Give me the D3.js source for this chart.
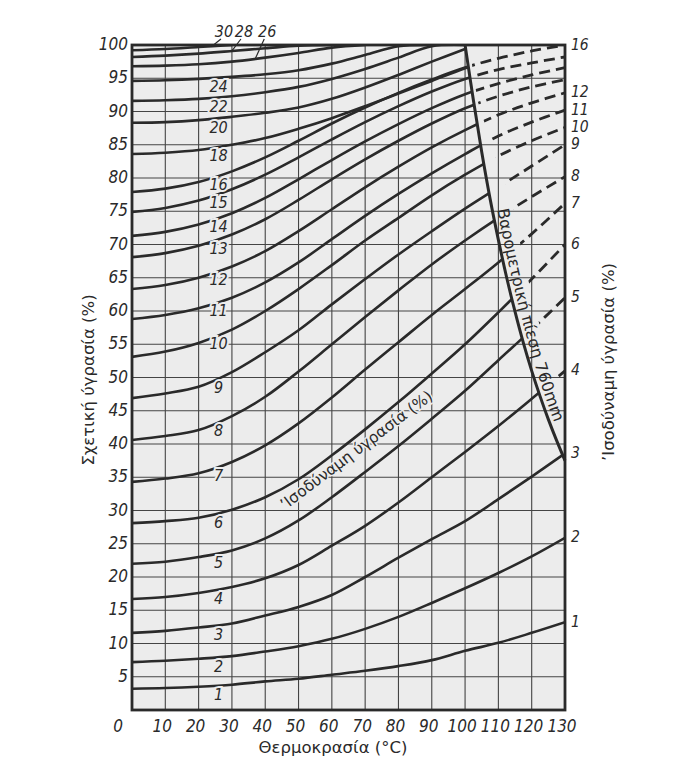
<!DOCTYPE html>
<html><head><meta charset="utf-8">
<script src="https://cdn.jsdelivr.net/npm/d3@7"></script>
<style>body{margin:0;background:#fff}</style>
</head><body>
<svg id="c" width="679" height="774"></svg>
<script>
// ---- data ----
const temps = [0,10,20,30,40,50,60,70,80,90,100,110,120,130];
const emc1  = [3.2,3.3,3.5,3.8,4.3,4.7,5.3,5.9,6.6,7.5,8.9,10.1,11.6,13.2];
const emc2  = [7.2,7.4,7.7,8.1,8.8,9.6,10.7,12.2,14.0,16.1,18.3,20.6,23.1,25.9];
const emc3  = [11.6,11.9,12.4,13.0,14.2,15.5,17.3,20.0,22.9,25.7,28.4,31.7,35.1,38.6];
const emc4  = [16.7,17.0,17.6,18.5,19.8,21.8,24.7,27.7,31.2,35.0,38.8,42.7,46.8,51.0];
const emc5  = [22.0,22.3,23.0,24.0,25.8,28.5,32.0,35.8,39.7,43.8,48.0,52.6,57.2,62.0];
const emc6  = [28.1,28.4,28.9,30.1,32.0,34.7,38.3,42.2,46.3,50.6,55.0,59.8,64.8,70.0];
const emc7  = [34.3,34.8,35.6,37.3,39.8,43.1,47.0,51.2,55.3,59.4,63.3,67.3,71.6,76.2];
const emc8  = [40.6,41.2,42.1,44.2,47.1,50.9,55.0,59.1,63.1,67.0,70.6,74.0,77.2,80.2];
const emc9  = [46.9,47.6,48.6,50.8,53.8,57.1,61.0,64.8,68.5,72.0,75.4,78.6,81.8,85.0];
const emc10 = [53.1,53.9,55.2,57.2,60.0,63.3,66.9,70.6,74.0,77.4,80.5,83.3,85.6,87.6];
const emc11 = [58.8,59.4,60.4,62.0,64.3,67.3,70.8,74.3,77.6,80.7,83.6,86.3,88.4,90.2];
const emc12 = [63.3,63.9,65.0,66.7,69.0,72.0,75.3,78.6,81.7,84.6,87.2,89.5,91.3,92.8];
const emc13 = [68.1,68.7,69.8,71.5,73.8,76.7,79.8,82.8,85.6,88.2,90.5,92.3,93.7,94.8];
const emc14 = [71.3,71.9,73.0,74.7,77.0,79.8,82.7,85.5,88.1,90.5,92.6,94.2,95.5,96.6];
const emc15 = [74.9,75.5,76.6,78.3,80.5,83.1,85.8,88.4,90.8,93.0,94.9,96.3,97.3,98.2];
const emc16 = [77.9,78.4,79.4,81.0,83.1,85.6,88.2,90.6,92.8,94.8,96.6,98.0,99.1,100];
const emc18 = [83.6,83.8,84.2,85.0,86.0,87.4,89.0,90.8,92.7,94.6,96.5,98.2,null,null];
const emc20 = [88.3,88.4,88.7,89.2,89.8,90.6,91.9,93.6,95.5,97.5,99.4,null,null,null];
const emc22 = [91.6,91.7,91.9,92.3,92.9,93.7,94.9,96.4,98.1,99.8,100,null,null,null];
const emc24 = [94.6,94.7,94.9,95.2,95.6,96.2,97.2,98.5,99.8,100,null,null,null,null];
const emc26 = [96.8,96.9,97.1,97.5,98.1,98.8,99.6,100,null,null,null,null,null,null];
const emc28 = [98.2,98.4,98.7,99.1,99.5,99.9,100,null,null,null,null,null,null,null];
const emc30 = [99.2,99.4,99.7,100,null,null,null,null,null,null,null,null,null,null];

const curveLabels = [1,2,3,4,5,6,7,8,9,10,11,12,13,14,15,16,18,20,22,24,26,28,30];
const curveValues = [emc1,emc2,emc3,emc4,emc5,emc6,emc7,emc8,emc9,emc10,emc11,emc12,
  emc13,emc14,emc15,emc16,emc18,emc20,emc22,emc24,emc26,emc28,emc30];
const dashedLabels = [4,5,6,7,8,9,10,11,12,13,14,15,16];
const rightLabels = [1,2,3,4,5,6,7,8,9,10,11,12,16];
const topLabels = [30,28,26];
const topLabelT = [24,30,37];

const baroT  = [100,102.5,105,107.5,110,112.5,115,117.5,120,122.5,125,127.5,130];
const baroRH = [100,91.7,83.9,76.9,70.7,65.0,59.9,55.2,51.0,47.2,43.7,40.5,37.5];

const xTicks = [10,20,30,40,50,60,70,80,90,100,110,120,130];
const yTicks = [5,10,15,20,25,30,35,40,45,50,55,60,65,70,75,80,85,90,95,100];

// ---- drawing ----
const ink = "#2a2a2a";
const paper = "#ececec";
const svg = d3.select("#c");
const x = d3.scaleLinear().domain([0,130]).range([132,565]);
const y = d3.scaleLinear().domain([0,100]).range([710,45]);
const numFont = "'DejaVu Sans Condensed','DejaVu Sans',sans-serif";
const titleFont = "'DejaVu Sans',sans-serif";

svg.append("rect").attr("x",x(0)).attr("y",y(100)).attr("width",x(130)-x(0)).attr("height",y(0)-y(100)).attr("fill",paper);

const defs = svg.append("defs");
const poly = d3.line().x(d=>d[0]).y(d=>d[1]);
const baroPx = baroT.map((t,i)=>[x(t),y(baroRH[i])]);
// gap (px) between barometric line and start of dashed lines: small at top, wide where the label runs
const gapPx = baroT.map(t => t<=102.5 ? 4 : (t<106 ? 12 : 21));
const baroGapPx = baroPx.map((p,i)=>[p[0]+gapPx[i],p[1]]);
defs.append("clipPath").attr("id","solidClip").append("path")
  .attr("d", poly([[x(0),y(-5)],[x(0),y(100)],...baroPx,[x(130),y(-5)]]) + "Z");
defs.append("clipPath").attr("id","dashClip").append("path")
  .attr("d", poly([[baroGapPx[0][0],y(100)],[x(130),y(100)],[x(130),baroPx[baroPx.length-1][1]],...baroGapPx.slice().reverse()]) + "Z");
defs.append("clipPath").attr("id","plotClip").append("rect")
  .attr("x",x(0)).attr("y",y(100)).attr("width",x(130)-x(0)).attr("height",y(0)-y(100));

// grid
const grid = svg.append("g").attr("stroke","#444").attr("stroke-width",1.1);
xTicks.forEach(t=>grid.append("line").attr("x1",x(t)).attr("x2",x(t)).attr("y1",y(0)).attr("y2",y(100)));
yTicks.forEach(v=>grid.append("line").attr("x1",x(0)).attr("x2",x(130)).attr("y1",y(v)).attr("y2",y(v)));

// curves
const line = d3.line().defined(d=>d[1]!=null).x(d=>x(d[0])).y(d=>y(d[1])).curve(d3.curveCatmullRom.alpha(0.5));
const cg = svg.append("g").attr("clip-path","url(#plotClip)");
curveValues.forEach((vals,i)=>{
  const pts = temps.map((t,j)=>[t,vals[j]]);
  cg.append("path").attr("d",line(pts)).attr("fill","none").attr("stroke",ink)
    .attr("stroke-width",2.6).attr("clip-path","url(#solidClip)");
  if (dashedLabels.includes(curveLabels[i])) {
    cg.append("path").attr("d",line(pts)).attr("fill","none").attr("stroke",ink)
      .attr("stroke-width",2.8).attr("stroke-dasharray","11,6").attr("clip-path","url(#dashClip)");
  }
});

// barometric line
const baroLine = d3.line().x(d=>x(d[0])).y(d=>y(d[1])).curve(d3.curveCatmullRom.alpha(0.5));
svg.append("path").attr("d", baroLine(baroT.map((t,i)=>[t,baroRH[i]])))
  .attr("fill","none").attr("stroke",ink).attr("stroke-width",3);

// border
svg.append("rect").attr("x",x(0)).attr("y",y(100)).attr("width",x(130)-x(0)).attr("height",y(0)-y(100))
  .attr("fill","none").attr("stroke",ink).attr("stroke-width",2.8);

// tick labels
const tl = svg.append("g").attr("font-family",numFont).attr("font-style","oblique").attr("font-size",17).attr("fill",ink);
xTicks.forEach(t=>tl.append("text").attr("x",x(t)-3).attr("y",y(0)+17).attr("text-anchor","middle").attr("dominant-baseline","middle").text(t));
tl.append("text").attr("x",x(0)-14).attr("y",y(0)+17).attr("text-anchor","middle").attr("dominant-baseline","middle").text(0);
yTicks.forEach(v=>tl.append("text").attr("x",x(0)-4).attr("y",y(v)).attr("text-anchor","end").attr("dominant-baseline","middle").text(v));

// curve labels
function valAt(vals,t){
  for(let j=0;j<temps.length-1;j++){
    if(t>=temps[j]&&t<=temps[j+1]&&vals[j]!=null&&vals[j+1]!=null){
      const f=(t-temps[j])/(temps[j+1]-temps[j]); return vals[j]+f*(vals[j+1]-vals[j]);
    }
  }
  return null;
}
const lab = svg.append("g").attr("font-family",numFont).attr("font-style","oblique").attr("font-size",16).attr("fill",ink);
curveLabels.forEach((c,i)=>{
  if (topLabels.includes(c)) return;
  const v = valAt(curveValues[i],26);
  lab.append("text").attr("x",x(26)).attr("y",y(v)+10).attr("text-anchor","middle").attr("dominant-baseline","middle")
    .attr("stroke",paper).attr("stroke-width",4).attr("paint-order","stroke").text(c);
});
topLabels.forEach((c,k)=>{
  const i = curveLabels.indexOf(c);
  const t = topLabelT[k];
  const v = valAt(curveValues[i],t);
  const tx = x(t)+9, ty = y(100)-13;
  lab.append("text").attr("x",tx+3).attr("y",ty).attr("text-anchor","middle").attr("dominant-baseline","middle").text(c);
  svg.append("line").attr("x1",tx).attr("y1",ty+7).attr("x2",x(t)).attr("y2",y(v)).attr("stroke",ink).attr("stroke-width",1.2);
});
rightLabels.forEach(c=>{
  const i = curveLabels.indexOf(c);
  const vals = curveValues[i];
  lab.append("text").attr("x",x(130)+6).attr("y",y(vals[vals.length-1])).attr("dominant-baseline","middle").attr("font-size",15.5).text(c);
});

// axis titles
svg.append("text").attr("transform",`translate(94,380) rotate(-90)`).attr("text-anchor","middle")
  .attr("font-family",titleFont).attr("font-size",16.5).attr("fill",ink).text("Σχετική ύγρασία (%)");
svg.append("text").attr("transform",`translate(614,362) rotate(-90)`).attr("text-anchor","middle")
  .attr("font-family",titleFont).attr("font-size",16.5).attr("fill",ink).text("’Ισοδύναμη ύγρασία (%)");
svg.append("text").attr("x",333).attr("y",y(0)+43).attr("text-anchor","middle")
  .attr("font-family",titleFont).attr("font-size",16.5).attr("fill",ink).text("Θερμοκρασία (°C)");

// diagonal label
svg.append("text").attr("transform",`translate(${x(67.5)},${y(39.0)}) rotate(-37)`).attr("text-anchor","middle")
  .attr("dominant-baseline","middle").attr("font-family",titleFont).attr("font-size",15.5).attr("fill",ink)
  .attr("stroke",paper).attr("stroke-width",3).attr("paint-order","stroke").text("’Ισοδύναμη ύγρασία (%)");

// barometric label along a path parallel to the line (offset to the right)
{
  const shifted = d3.line().x(d=>d[0]+5).y(d=>d[1]).curve(d3.curveCatmullRom.alpha(0.5));
  const p = defs.append("path").attr("id","baroTextPath").attr("d", shifted(baroPx));
  const node = p.node();
  const total = node.getTotalLength();
  const targetY = y(75.3);
  let lo=0, hi=total;
  for(let k=0;k<40;k++){ const mid=(lo+hi)/2; if(node.getPointAtLength(mid).y<targetY) lo=mid; else hi=mid; }
  svg.append("text").attr("font-family",titleFont).attr("font-size",16).attr("fill",ink)
    .append("textPath").attr("href","#baroTextPath").attr("startOffset",lo)
    .text("Βαρομετρική πίεση 760mm");
}
</script>
</body></html>
